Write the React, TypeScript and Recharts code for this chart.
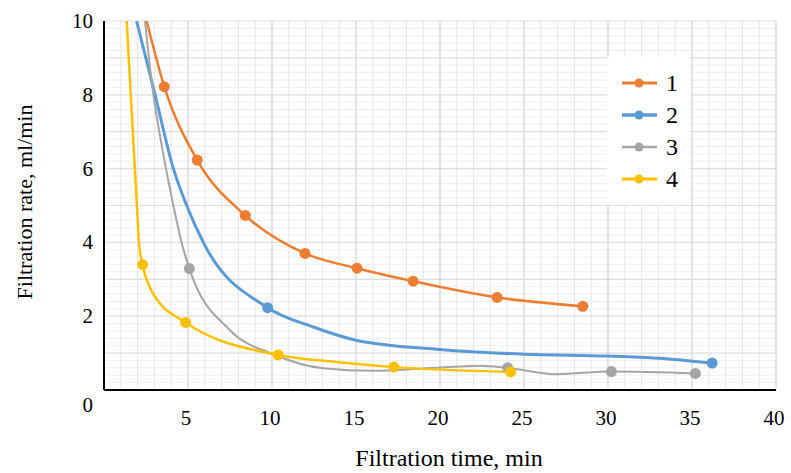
import React from "react";
import { LineChart, Line, XAxis, YAxis, ReferenceLine, Legend, Label } from "recharts";

const FONT = "'Liberation Serif', 'Times New Roman', serif";

// curve 1 (orange)
const time1 = [2.54, 3.59, 5.55, 8.41, 11.96, 15.06, 18.4, 23.4, 28.5];
const rate1 = [10.0, 8.22, 6.23, 4.73, 3.7, 3.3, 2.95, 2.51, 2.27];
const marks1 = [0, 1, 1, 1, 1, 1, 1, 1, 1];

// curve 2 (blue)
const time2 = [1.94, 3.04, 4.13, 4.92, 5.91, 9.74, 12.5, 15, 20, 25, 30, 33, 36.2];
const rate2 = [10.0, 8.0, 6.0, 5.0, 4.0, 2.23, 1.7, 1.35, 1.1, 0.97, 0.92, 0.86, 0.73];
const marks2 = [0, 0, 0, 0, 0, 1, 0, 0, 0, 0, 0, 0, 1];

// curve 3 (grey)
const time3 = [2.44, 2.94, 3.29, 3.69, 4.13, 4.62, 5.08, 7.5, 10.08, 13.05, 16.0, 19.0, 22.4, 24.03, 26.9, 30.2, 35.2];
const rate3 = [10.0, 8.0, 7.0, 6.0, 5.0, 4.0, 3.29, 1.62, 0.97, 0.59, 0.52, 0.58, 0.66, 0.6, 0.43, 0.5, 0.45];
const marks3 = [0, 0, 0, 0, 0, 0, 1, 0, 0, 0, 0, 0, 0, 1, 0, 1, 1];

// curve 4 (yellow)
const time4 = [1.35, 1.97, 2.08, 2.3, 2.93, 4.86, 10.36, 14, 17.26, 24.2];
const rate4 = [10.0, 4.9, 4.0, 3.4, 2.61, 1.83, 0.95, 0.75, 0.62, 0.49];
const marks4 = [0, 0, 0, 1, 0, 1, 1, 0, 1, 1];

const seriesNames = ["1", "2", "3", "4"];
const seriesColors = ["#ED7D31", "#5B9BD5", "#A5A5A5", "#FFC000"];
const seriesWidths = [2.5, 3, 2, 2.5];

const xTicks = [5, 10, 15, 20, 25, 30, 35, 40];
const yTicks = [0, 2, 4, 6, 8, 10];

const toRows = (t: number[], v: number[], m: number[]) =>
	t.map((x, i) => ({ t: x, v: v[i], m: m[i] }));

const series = [
	toRows(time1, rate1, marks1),
	toRows(time2, rate2, marks2),
	toRows(time3, rate3, marks3),
	toRows(time4, rate4, marks4),
];

// grid positions
const xMinor: number[] = [];
for (let i = 1; i <= 40; i++) if (i % 5 !== 0) xMinor.push(i);
const xMajor = [5, 10, 15, 20, 25, 30, 35, 40];
const yMinor: number[] = [];
for (let i = 1; i < 50; i++) if (i % 5 !== 0) yMinor.push(i / 5);
const yMajor = [1, 2, 3, 4, 5, 6, 7, 8, 9, 10];

const makeDot = (color: string) => (props: any) => {
	const { cx, cy, payload, index } = props;
	if (!payload.m) return <g key={`d-${index}`} />;
	return <circle key={`d-${index}`} cx={cx} cy={cy} r={5.5} fill={color} />;
};

const YTick = ({ x, y, payload }: any) => (
	<text
		x={x}
		y={payload.value === 0 ? y + 15 : y}
		textAnchor="end"
		dominantBaseline="central"
		fill="#000"
		style={{ fontFamily: FONT, fontSize: 21 }}
	>
		{payload.value}
	</text>
);

const XTick = ({ x, y, payload }: any) => (
	<text
		x={x - 2}
		y={y}
		dy="0.71em"
		textAnchor="middle"
		fill="#000"
		style={{ fontFamily: FONT, fontSize: 21 }}
	>
		{payload.value}
	</text>
);

const renderLegend = () => (
	<div
		style={{
			background: "#fff",
			width: 83,
			height: 148,
			boxSizing: "border-box",
			paddingTop: 10,
		}}
	>
		{seriesNames.map((n, i) => (
			<div key={n} style={{ height: 32, display: "flex", alignItems: "center" }}>
				<svg width={59} height={32}>
					<line x1={15} x2={50} y1={16} y2={16} stroke={seriesColors[i]} strokeWidth={seriesWidths[i] + 0.5} />
					<circle cx={32} cy={16} r={4.5} fill={seriesColors[i]} />
				</svg>
				<span style={{ fontFamily: FONT, fontSize: 24, lineHeight: "32px", color: "#000" }}>{n}</span>
			</div>
		))}
	</div>
);

export default function App() {
	return (
		<div style={{ position: "absolute", left: 0, top: 0, background: "#fff" }}>
			<LineChart width={791} height={473} margin={{ top: 21, right: 15, bottom: 53, left: 0 }}>
				{yMinor.map((v) => (
					<ReferenceLine key={`ym-${v}`} y={v} stroke="#f0f0f0" strokeWidth={1} />
				))}
				{xMinor.map((v) => (
					<ReferenceLine key={`xm-${v}`} x={v} stroke="#e6e6e6" strokeWidth={1} />
				))}
				{yMajor.map((v) => (
					<ReferenceLine key={`yM-${v}`} y={v} stroke="#dedede" strokeWidth={1.2} />
				))}
				{xMajor.map((v) => (
					<ReferenceLine key={`xM-${v}`} x={v} stroke="#d2d2d2" strokeWidth={1.2} />
				))}
				<XAxis
					type="number"
					dataKey="t"
					domain={[0, 40]}
					ticks={xTicks}
					allowDataOverflow
					height={30}
					tickLine={false}
					tickMargin={14}
					axisLine={{ stroke: "#000", strokeWidth: 2 }}
					tick={<XTick />}
				>
					<Label
						content={() => (
							<text x={449} y={466} textAnchor="middle" fill="#000" style={{ fontFamily: FONT, fontSize: 24 }}>
								Filtration time, min
							</text>
						)}
					/>
				</XAxis>
				<YAxis
					type="number"
					dataKey="v"
					domain={[0, 10]}
					ticks={yTicks}
					allowDataOverflow
					width={104}
					tickLine={false}
					tickMargin={5}
					axisLine={{ stroke: "#000", strokeWidth: 2 }}
					tick={<YTick />}
				>
					<Label
						content={() => (
							<text
								x={32}
								y={202}
								transform="rotate(-90, 32, 202)"
								textAnchor="middle"
								fill="#000"
								style={{ fontFamily: FONT, fontSize: 22 }}
							>
								Filtration rate, ml/min
							</text>
						)}
					/>
				</YAxis>
				{series.map((rows, i) => (
					<Line
						key={seriesNames[i]}
						name={seriesNames[i]}
						data={rows}
						dataKey="v"
						type="monotone"
						stroke={seriesColors[i]}
						strokeWidth={seriesWidths[i]}
						dot={makeDot(seriesColors[i])}
						activeDot={false}
						isAnimationActive={false}
					/>
				))}
				<Legend
					layout="vertical"
					align="center"
					verticalAlign="middle"
					content={renderLegend}
					wrapperStyle={{ left: 607, top: 57, width: 83, height: 148 }}
				/>
			</LineChart>
		</div>
	);
}
